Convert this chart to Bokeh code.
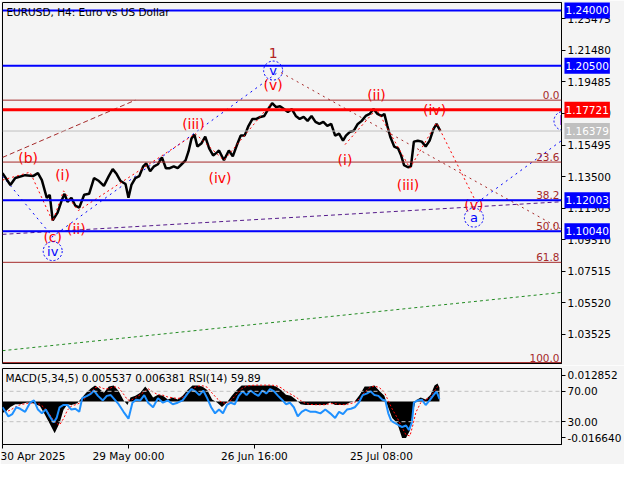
from bokeh.plotting import figure
from bokeh.models import Range1d, FixedTicker, Span, Label, NumeralTickFormatter, GridBox
from bokeh.core.properties import value
from bokeh.embed import file_html
from bokeh.resources import INLINE

# ---------------- data ----------------
title_text = "EURUSD, H4:  Euro vs US Dollar"

price_x = [2,10,15,25,33,38,42,47,50,53,58,62,65,68,72,76,80,85,90,95,100,105,110,114,118,122,127,130,133,137,
           141,145,148,152,156,160,164,168,172,176,180,184,188,191,194,197,200,204,208,212,216,220,222,227,232,236,
           240,244,248,252,256,260,264,268,272,276,280,284,288,292,296,300,304,308,312,316,320,324,328,332,336,340,
           344,348,351,355,359,363,367,371,375,379,383,387,390,393,396,400,404,407,410,414,417,420,424,428,432,436,
           440,443,447]
price_close = [1.1372,1.1297,1.1341,1.1359,1.1353,1.1372,1.1328,1.1216,1.1235,1.1073,
               1.1122,1.1197,1.1241,1.1191,1.1216,1.1166,1.1154,1.1235,1.1241,1.1341,
               1.1322,1.1291,1.1353,1.1397,1.1366,1.1322,1.1303,1.1216,1.1297,1.1341,
               1.1353,1.1415,1.1434,1.1384,1.1415,1.1428,1.1471,1.1403,1.1403,1.1415,
               1.1403,1.1428,1.1453,1.1509,1.1590,1.1615,1.1540,1.1559,1.1602,1.1528,
               1.1484,1.1503,1.1515,1.1453,1.1515,1.1478,1.1546,1.1609,1.1609,1.1671,
               1.1714,1.1714,1.1727,1.1733,1.1777,1.1814,1.1789,1.1795,1.1777,1.1758,
               1.1777,1.1733,1.1714,1.1727,1.1702,1.1733,1.1696,1.1683,1.1696,1.1671,
               1.1683,1.1609,1.1621,1.1577,1.1609,1.1633,1.1640,1.1683,1.1702,1.1733,
               1.1746,1.1777,1.1746,1.1733,1.1746,1.1671,1.1602,1.1540,1.1528,1.1484,
               1.1422,1.1409,1.1415,1.1571,1.1577,1.1571,1.1540,1.1577,1.1652,1.1683,
               1.16379]

price_ticks = [1.23475, 1.21480, 1.19485, 1.17490, 1.15495, 1.13500, 1.11505, 1.09510, 1.07515, 1.05520, 1.03525]

level_values = [1.24000, 1.20500, 1.17721, 1.16379, 1.12003, 1.10040]
level_colors = ["#0000ff", "#0000ff", "#ff0000", "#c0c0c0", "#0000ff", "#0000ff"]
level_widths = [2, 2, 3, 1, 2, 2]

fib_top = 1.1833
fib_bottom = 1.0175
fib_levels = [0.0, 23.6, 38.2, 50.0, 61.8, 100.0]

wave1_x = [2, 30, 53, 64, 79, 198, 227, 276]
wave1_p = [1.1328, 1.1378, 1.1066, 1.1260, 1.1135, 1.1621, 1.1453, 1.1820]
wave2_x = [350, 382, 416, 443, 481]
wave2_p = [1.1552, 1.1777, 1.1403, 1.1690, 1.1216]

blue_a_x = [2, 50];    blue_a_p = [1.1353, 1.0992]
blue_b_x = [52, 283];  blue_b_p = [1.0967, 1.2014]
blue_c_x = [484, 570]; blue_c_p = [1.1185, 1.1577]
brown_dot_x = [285, 570];  brown_dot_p = [1.2007, 1.1017]
brown_dash_x = [2, 137];   brown_dash_p = [1.1471, 1.1833]
purple_x = [2, 570];       purple_p = [1.0985, 1.1191]
green_x = [2, 570];        green_p = [1.0250, 1.0618]

red_lbl_text = ["(b)", "(c)", "(i)", "(ii)", "(iii)", "(iv)", "(v)", "(i)", "(ii)", "(iii)", "(iv)", "(v)"]
red_lbl_x = [28, 53, 63, 77, 196, 223, 277, 350, 382, 414, 441, 481]
red_lbl_p = [1.1465, 1.0967, 1.1359, 1.1017, 1.1683, 1.1341, 1.1926, 1.1453, 1.1864, 1.1297, 1.1771, 1.1172]
blue_lbl_text = ["iv", "v", "a", "b"]
blue_lbl_x = [53, 277, 481, 572]
blue_lbl_p = [1.0879, 1.2020, 1.1091, 1.1702]
major_lbl_text = ["1"]
major_lbl_x = [277]
major_lbl_p = [1.2132]

time_tick_x = [2, 130, 258, 387]
time_tick_labels = ["30 Apr 2025", "29 May 00:00", "26 Jun 16:00", "25 Jul 08:00"]

macd_max = 0.012852
macd_min = -0.016640
macd_main_last = 0.005537
macd_signal_last = 0.006381
rsi_last = 59.89
macd_x = [0,5,10,15,20,27,33,40,45,50,55,60,64,68,72,78,82,87,92,96,100,105,110,115,120,125,129,132,137,142,
          147,150,155,160,165,170,175,180,185,190,195,200,205,210,215,220,225,230,235,240,245,250,255,260,265,270,
          275,280,285,290,295,300,305,310,315,320,325,330,335,340,345,350,355,360,365,370,375,380,385,390,393,398,
          403,408,412,416,419,422,427,432,437,441,444,446]
macd_hist = [-0.0046,-0.0039,-0.0021,-0.0010,-0.0010,-0.0003,-0.0006,-0.0017,-0.0050,-0.0086,
             -0.0123,-0.0083,-0.0032,-0.0010,-0.0013,-0.0006,0.0012,0.0034,0.0052,0.0063,
             0.0052,0.0034,0.0059,0.0063,0.0041,0.0005,-0.0013,0.0016,0.0023,0.0034,
             0.0059,0.0045,0.0016,0.0027,0.0023,0.0008,0.0016,0.0008,0.0023,0.0045,
             0.0063,0.0063,0.0059,0.0045,0.0008,-0.0003,-0.0021,-0.0003,0.0023,0.0045,
             0.0063,0.0063,0.0063,0.0063,0.0063,0.0063,0.0063,0.0059,0.0045,0.0027,
             0.0023,0.0008,-0.0010,-0.0013,-0.0013,-0.0013,-0.0013,-0.0013,-0.0003,-0.0013,
             -0.0013,-0.0013,-0.0003,0.0001,0.0027,0.0059,0.0059,0.0063,0.0041,0.0023,
             -0.0013,-0.0064,-0.0083,-0.0141,-0.0141,-0.0112,-0.0039,0.0005,0.0016,0.0008,
             0.0027,0.0063,0.0070,0.0055]
macd_signal = [-0.0033,-0.0040,-0.0033,-0.0021,-0.0012,-0.0007,-0.0005,-0.0010,-0.0025,-0.0050,
               -0.0079,-0.0091,-0.0066,-0.0033,-0.0017,-0.0010,-0.0002,0.0017,0.0037,0.0054,
               0.0058,0.0050,0.0050,0.0058,0.0054,0.0029,0.0007,0.0004,0.0015,0.0027,
               0.0041,0.0050,0.0037,0.0027,0.0025,0.0018,0.0015,0.0012,0.0017,0.0032,
               0.0050,0.0060,0.0062,0.0056,0.0033,0.0012,-0.0004,-0.0007,0.0008,0.0029,
               0.0050,0.0060,0.0063,0.0064,0.0064,0.0064,0.0064,0.0062,0.0054,0.0040,
               0.0029,0.0018,0.0004,-0.0007,-0.0011,-0.0012,-0.0012,-0.0012,-0.0008,-0.0008,
               -0.0011,-0.0012,-0.0008,-0.0003,0.0012,0.0037,0.0054,0.0061,0.0054,0.0037,
               0.0012,-0.0029,-0.0062,-0.0100,-0.0129,-0.0133,-0.0091,-0.0042,-0.0004,0.0008,
               0.0018,0.0041,0.0058,0.0064]
rsi_x = [2,5,8,12,16,20,25,30,34,38,42,46,50,54,57,60,64,68,72,76,80,83,88,92,95,99,104,108,112,116,
         120,125,130,134,138,142,146,150,155,160,165,170,175,180,185,190,194,198,202,206,210,214,218,222,226,230,
         234,238,242,246,250,254,258,262,266,270,274,278,282,286,290,294,298,302,306,310,315,320,325,330,335,340,
         344,348,352,356,360,364,368,372,376,380,384,388,391,394,397,401,405,408,412,415,418,420,424,428,432,436,
         440,443,446]
rsi_vals = [49,43,37,40,49,47,43,55,58,46,41,46,37,29,35,49,52,52,46,47,
            43,61,64,67,71,64,58,64,65,59,53,43,34,55,59,58,65,55,49,61,
            55,58,53,55,58,67,73,70,65,71,61,49,41,46,41,52,55,53,64,70,
            65,71,67,64,71,67,73,70,64,59,53,55,49,37,43,46,43,43,41,46,
            41,35,43,40,46,47,49,55,65,67,70,65,64,59,58,41,31,28,25,23,
            25,19,29,55,58,59,52,58,65,70,59.89]
rsi_ticks = [70.0, 30.0]

# ---------------- styling ----------------
BG = "#f4f4f4"
FONT = "DejaVu Sans"
BLUE = "#0000ff"
RED = "#ff0000"
BROWN = "#a52a2a"
TICK_FS = "10.5px"
W, H_MAIN, H_SUB = 624, 365, 99
BORDERS = dict(min_border_left=2, min_border_right=62, min_border_top=2, min_border_bottom=2)

p = figure(width=W, height=H_MAIN, x_range=Range1d(2, 570), y_range=Range1d(1.0169, 1.2450),
           output_backend="svg", toolbar_location=None, x_axis_location=None, y_axis_location="right",
           background_fill_color=BG, border_fill_color=BG,
           outline_line_color="black", outline_line_width=1, **BORDERS)
p.grid.visible = False
ya = p.yaxis[0]
ya.ticker = FixedTicker(ticks=price_ticks)
ya.formatter = NumeralTickFormatter(format="0.00000")
ya.major_label_text_font = FONT
ya.major_label_text_font_size = TICK_FS
ya.major_label_text_color = "black"
ya.major_tick_out = 4
ya.major_tick_in = 0
ya.minor_tick_out = 0
ya.minor_tick_in = 0
ya.major_label_standoff = 2
ya.axis_line_color = "black"

fib_prices = [fib_top - lv / 100.0 * (fib_top - fib_bottom) for lv in fib_levels]
for fp in fib_prices:
    p.add_layout(Span(location=fp, dimension="width", line_color=BROWN, line_width=1))
p.text(x=[568] * len(fib_levels), y=fib_prices, text=[f"{lv:.1f}" for lv in fib_levels],
       text_color=BROWN, text_font=value(FONT), text_font_size=TICK_FS,
       text_align="right", text_baseline="bottom", y_offset=-1)

for v, c, w in zip(level_values, level_colors, level_widths):
    p.add_layout(Span(location=v, dimension="width", line_color=c, line_width=w))

p.line(green_x, green_p, line_color="#228b22", line_width=1, line_dash="3 3")
p.line(purple_x, purple_p, line_color="#551a8b", line_width=1, line_dash="4 3")
p.line(brown_dash_x, brown_dash_p, line_color=BROWN, line_width=1, line_dash="5 3")
p.line(brown_dot_x, brown_dot_p, line_color=BROWN, line_width=1, line_dash="2 4")
for bx, bp in ((blue_a_x, blue_a_p), (blue_b_x, blue_b_p), (blue_c_x, blue_c_p)):
    p.line(bx, bp, line_color=BLUE, line_width=1, line_dash="2 4")

p.line(price_x, price_close, line_color="black", line_width=2.5)

p.line(wave1_x, wave1_p, line_color=RED, line_width=1, line_dash="2 3")
p.line(wave2_x, wave2_p, line_color=RED, line_width=1, line_dash="2 3")

p.text(x=red_lbl_x, y=red_lbl_p, text=red_lbl_text, text_color=RED, text_font=value(FONT),
       text_font_size="14px", text_align="center", text_baseline="middle")
p.scatter(x=blue_lbl_x, y=blue_lbl_p, marker="circle", size=19, fill_alpha=0,
          line_color=BLUE, line_width=1, line_dash="2 2")
p.text(x=blue_lbl_x, y=blue_lbl_p, text=blue_lbl_text, text_color=BLUE, text_font=value(FONT),
       text_font_size="13px", text_align="center", text_baseline="middle")
p.text(x=major_lbl_x, y=major_lbl_p, text=major_lbl_text, text_color="#b22222", text_font=value(FONT),
       text_font_size="14px", text_align="center", text_baseline="middle")

p.add_layout(Label(x=6, y=1.2388, text=title_text, text_font=FONT, text_font_size=TICK_FS,
                   text_color="black", text_baseline="middle", text_align="left"))

# ---- transparent overlays in the same grid cell, each carrying one value box on the price scale ----
overlays = []
for v, c in zip(level_values, level_colors):
    o = figure(width=W, height=H_MAIN, x_range=p.x_range, y_range=p.y_range,
               output_backend="svg", toolbar_location=None, x_axis_location=None, y_axis_location=None,
               background_fill_color=None, border_fill_color=None, outline_line_color=None, **BORDERS)
    o.grid.visible = False
    o.add_layout(Label(x=573, y=v, text=f"{v:.5f}", text_color="white", text_font=FONT,
                       text_font_size=TICK_FS, text_baseline="middle", text_align="left",
                       background_fill_color=c, padding=(1, 4)), "right")
    overlays.append(o)

# ---------------- MACD / RSI window ----------------
m = figure(width=W, height=H_SUB, x_range=p.x_range, y_range=Range1d(0, 100),
           output_backend="svg", toolbar_location=None, y_axis_location="right",
           min_border_left=2, min_border_right=62, min_border_top=3, min_border_bottom=18,
           background_fill_color=BG, border_fill_color=BG,
           outline_line_color="black", outline_line_width=1)
m.grid.visible = False
m.extra_y_ranges = {"macd": Range1d(macd_min, macd_max)}

for r in rsi_ticks:
    m.add_layout(Span(location=r, dimension="width", line_color="#c0c0c0", line_width=1, line_dash="4 3"))
m.varea(x=macd_x, y1=0, y2=macd_hist, fill_color="black", y_range_name="macd")
m.line(macd_x, macd_signal, line_color=RED, line_width=1, line_dash="2 2", y_range_name="macd")
m.line(rsi_x, rsi_vals, line_color="#1e90ff", line_width=2)

m.add_layout(Label(x=5, y=87,
                   text=f"MACD(5,34,5) {macd_main_last:.6f} {macd_signal_last:.6f} RSI(14) {rsi_last:.2f}",
                   text_font=FONT, text_font_size=TICK_FS, text_color="black",
                   text_baseline="middle", text_align="left"))

my = m.yaxis[0]
macd_label_pos = [91.0, 9.0]
my.ticker = FixedTicker(ticks=[macd_label_pos[0]] + rsi_ticks + [macd_label_pos[1]])
my.major_label_overrides = {macd_label_pos[0]: f"{macd_max:.6f}", rsi_ticks[0]: f"{rsi_ticks[0]:.2f}",
                            rsi_ticks[1]: f"{rsi_ticks[1]:.2f}", macd_label_pos[1]: f"{macd_min:.6f}"}
for ax in (my, m.xaxis[0]):
    ax.major_label_text_font = FONT
    ax.major_label_text_font_size = TICK_FS
    ax.major_label_text_color = "black"
    ax.major_tick_out = 4
    ax.major_tick_in = 0
    ax.minor_tick_out = 0
    ax.minor_tick_in = 0
    ax.axis_line_color = "black"
my.major_label_standoff = 2
mx = m.xaxis[0]
mx.ticker = FixedTicker(ticks=time_tick_x)
mx.major_label_overrides = dict(zip(time_tick_x, time_tick_labels))
mx.major_label_text_align = "left"
mx.major_label_standoff = 1

children = [(p, 0, 0)] + [(o, 0, 0) for o in overlays] + [(m, 1, 0)]
layout = GridBox(children=children, spacing=0)
open("out.html", "w").write(file_html(layout, INLINE))
